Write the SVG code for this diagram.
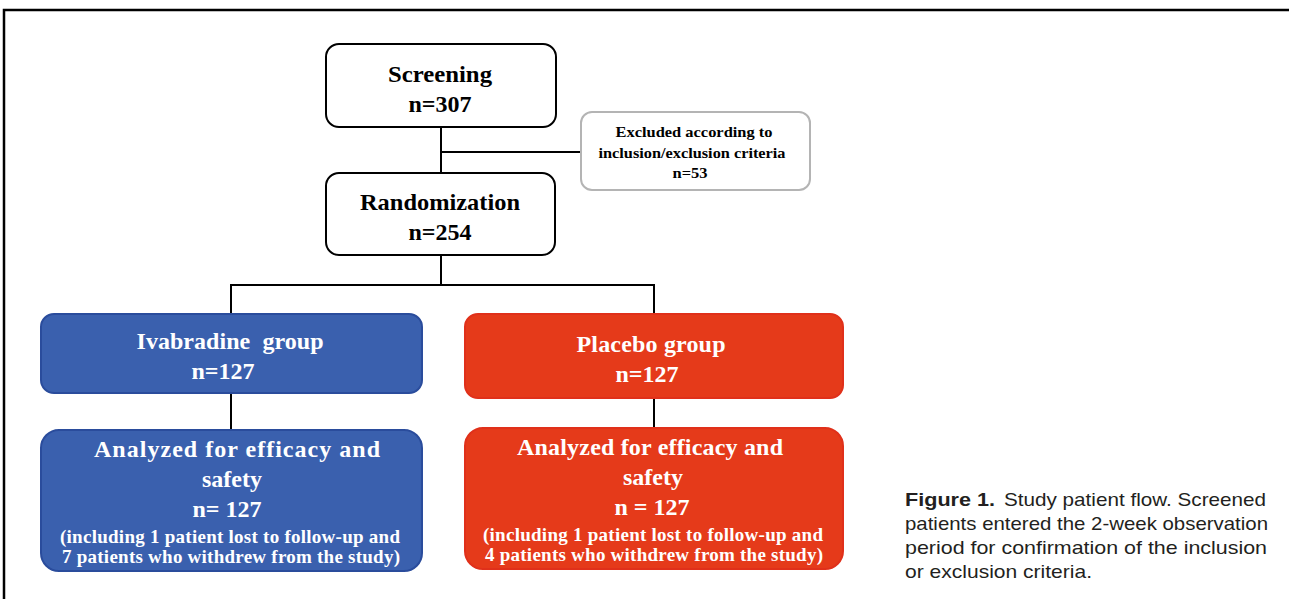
<svg xmlns="http://www.w3.org/2000/svg" width="1289" height="599" viewBox="0 0 1289 599">
<style>
.frame{stroke:#000;stroke-width:2.5;fill:none}
.wbox{fill:#fff;stroke:#000;stroke-width:2}
.gbox{fill:#fff;stroke:#b4b4b4;stroke-width:2}
.bbox{fill:#3a60ae;stroke:#2a4c9c;stroke-width:2}
.rbox{fill:#e53a1a;stroke:#e0301a;stroke-width:2}
.conn{stroke:#000;stroke-width:2;fill:none}
.t{font-family:"Liberation Serif","Times New Roman",serif;font-weight:bold;text-anchor:middle}
.big{font-size:24px}
.mid{font-size:19px}
.sm{font-size:15.5px}
.blk{fill:#000}
.wht{fill:#fff}
.cap{font-family:"Liberation Sans",Arial,sans-serif;font-size:19px;fill:#231f20}
.capb{font-family:"Liberation Sans Narrow","Liberation Sans",Arial,sans-serif;font-weight:bold;font-size:19px;fill:#231f20}
</style>
<rect width="1289" height="599" fill="#fff"/>
<path class="frame" d="M4 599 V10 H1289"/>
<g id="connectors">
<path class="conn" d="M441 127 V173"/>
<path class="conn" d="M441 152 H581"/>
<path class="conn" d="M441 255 V285"/>
<path class="conn" d="M231 314 V285 H654 V314"/>
<path class="conn" d="M231 393 V430"/>
<path class="conn" d="M654 398 V428"/>
</g>
<g id="screening">
<rect class="wbox" x="326" y="44" width="230" height="83" rx="13"/>
<text class="t big blk" x="440" y="82" textLength="104" lengthAdjust="spacingAndGlyphs">Screening</text>
<text class="t big blk" x="440" y="112">n=307</text>
</g>
<g id="excluded">
<rect class="gbox" x="581" y="112" width="229" height="78" rx="11"/>
<text class="t sm blk" x="694" y="137" textLength="157" lengthAdjust="spacingAndGlyphs">Excluded according to</text>
<text class="t sm blk" x="692" y="158" textLength="187" lengthAdjust="spacingAndGlyphs">inclusion/exclusion criteria</text>
<text class="t sm blk" x="690" y="178" textLength="35" lengthAdjust="spacingAndGlyphs">n=53</text>
</g>
<g id="randomization">
<rect class="wbox" x="326" y="173" width="229" height="82" rx="13"/>
<text class="t big blk" x="440" y="210" textLength="160" lengthAdjust="spacingAndGlyphs">Randomization</text>
<text class="t big blk" x="440" y="240">n=254</text>
</g>
<g id="ivabradine">
<rect class="bbox" x="41" y="314" width="381" height="79" rx="13"/>
<text class="t big wht" x="230" y="349" textLength="187" lengthAdjust="spacing" xml:space="preserve">Ivabradine  group</text>
<text class="t big wht" x="223" y="379">n=127</text>
</g>
<g id="placebo">
<rect class="rbox" x="465" y="314" width="378" height="84" rx="13"/>
<text class="t big wht" x="651" y="352" textLength="149" lengthAdjust="spacing">Placebo group</text>
<text class="t big wht" x="647" y="382">n=127</text>
</g>
<g id="analyzed-ivabradine">
<rect class="bbox" x="41" y="430" width="381" height="141" rx="18"/>
<text class="t big wht" x="237" y="457" textLength="286" lengthAdjust="spacing">Analyzed for efficacy and</text>
<text class="t big wht" x="232" y="487">safety</text>
<text class="t big wht" x="227" y="517">n= 127</text>
<text class="t mid wht" x="230" y="543" textLength="340" lengthAdjust="spacing">(including 1 patient lost to follow-up and</text>
<text class="t mid wht" x="231" y="563" textLength="338" lengthAdjust="spacing">7 patients who withdrew from the study)</text>
</g>
<g id="analyzed-placebo">
<rect class="rbox" x="465" y="428" width="378" height="141" rx="18"/>
<text class="t big wht" x="650" y="455" textLength="266" lengthAdjust="spacing">Analyzed for efficacy and</text>
<text class="t big wht" x="653" y="485">safety</text>
<text class="t big wht" x="652" y="515" xml:space="preserve">n = 127</text>
<text class="t mid wht" x="653" y="541" textLength="340" lengthAdjust="spacing">(including 1 patient lost to follow-up and</text>
<text class="t mid wht" x="654" y="561" textLength="338" lengthAdjust="spacing">4 patients who withdrew from the study)</text>
</g>
<g id="caption">
<text class="capb" x="905" y="506" textLength="90" lengthAdjust="spacingAndGlyphs">Figure 1.</text>
<text class="cap" x="1004" y="506" textLength="262" lengthAdjust="spacingAndGlyphs">Study patient flow. Screened</text>
<text class="cap" x="905" y="530" textLength="363" lengthAdjust="spacingAndGlyphs">patients entered the 2-week observation</text>
<text class="cap" x="905" y="554" textLength="362" lengthAdjust="spacingAndGlyphs">period for confirmation of the inclusion</text>
<text class="cap" x="905" y="578" textLength="187" lengthAdjust="spacingAndGlyphs">or exclusion criteria.</text>
</g>
</svg>
